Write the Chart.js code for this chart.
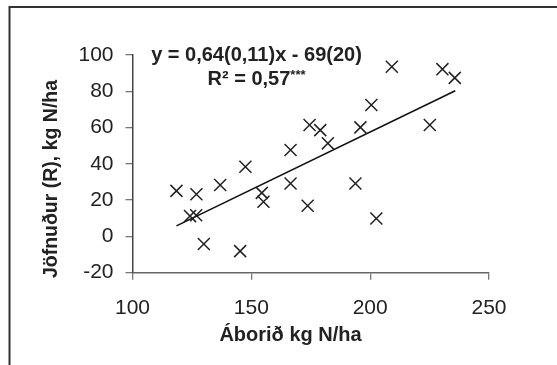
<!DOCTYPE html>
<html>
<head>
<meta charset="utf-8">
<script src="https://cdn.jsdelivr.net/npm/chart.js@4/dist/chart.umd.min.js"></script>
<style>
  html, body { margin: 0; padding: 0; background: #fff; }
  #wrap { width: 557px; height: 365px; position: relative; }
</style>
</head>
<body>
<div id="wrap"><canvas id="c" width="557" height="365"></canvas></div>
<script>
// Nitrogen applied (x) vs. nitrogen balance (y), one point per field
const applied = [118.5, 126.9, 136.9, 147.5, 166.5, 166.5, 154.4, 155.1, 124.2, 126.8, 130.0, 145.3,
                 209.1, 230.4, 235.6, 200.5, 174.5, 179.0, 182.2, 195.9, 225.1, 193.8, 173.7, 202.6];
const balance = [25.1, 23.2, 28.3, 38.4, 47.6, 29.2, 24.0, 19.1, 11.2, 11.7, -4.2, -8.1,
                 93.5, 92.2, 87.4, 72.4, 61.4, 58.6, 51.3, 60.1, 61.4, 29.2, 16.9, 9.9];
// Regression line end points
const fitX = [118.5, 235.8];
const fitY = [5.8, 80.3];
const xTicks = [100, 150, 200, 250];
const yTicks = [-20, 0, 20, 40, 60, 80, 100];

const xTitle = 'Áborið kg N/ha';
const yTitle = 'Jöfnuður (R), kg N/ha';
const eqLine = 'y = 0,64(0,11)x - 69(20)';
const r2Main = 'R² = 0,57';
const r2Stars = '***';

const FONT = '"Liberation Sans", Arial, sans-serif';

const points = applied.map((x, i) => ({ x: x, y: balance[i] }));
const fit = fitX.map((x, i) => ({ x: x, y: fitY[i] }));

const annotations = {
  id: 'annotations',
  afterDraw(chart) {
    const ctx = chart.ctx;
    ctx.save();
    // frame (left and top edges)
    ctx.strokeStyle = '#333';
    ctx.lineWidth = 2;
    ctx.beginPath();
    ctx.moveTo(9.5, 365);
    ctx.lineTo(9.5, 7);
    ctx.lineTo(557, 7);
    ctx.stroke();

    ctx.fillStyle = '#222';
    ctx.textAlign = 'center';
    ctx.textBaseline = 'middle';
    // axis titles
    ctx.font = 'bold 20px ' + FONT;
    ctx.fillText(xTitle, 290.5, 335);
    ctx.save();
    ctx.translate(52, 179);
    ctx.rotate(-Math.PI / 2);
    ctx.font = 'bold 19.5px ' + FONT;
    ctx.fillText(yTitle, 0, 0);
    ctx.restore();

    // regression equation
    ctx.font = 'bold 20px ' + FONT;
    ctx.fillText(eqLine, 256.5, 55);
    const wMain = ctx.measureText(r2Main).width;
    ctx.font = 'bold 13px ' + FONT;
    const wStars = ctx.measureText(r2Stars).width;
    const startX = 256.5 - (wMain + wStars) / 2;
    ctx.textAlign = 'left';
    ctx.font = 'bold 20px ' + FONT;
    ctx.fillText(r2Main, startX, 79);
    ctx.font = 'bold 13px ' + FONT;
    ctx.fillText(r2Stars, startX + wMain, 75);
    ctx.restore();
  }
};

new Chart(document.getElementById('c'), {
  type: 'scatter',
  data: {
    datasets: [
      {
        data: points,
        pointStyle: 'crossRot',
        pointRadius: 8.5,
        pointHoverRadius: 8.5,
        borderColor: '#222',
        backgroundColor: '#222',
        pointBorderWidth: 1.5,
        borderWidth: 1.5
      },
      {
        type: 'line',
        data: fit,
        borderColor: '#111',
        borderWidth: 1.6,
        pointRadius: 0,
        fill: false
      }
    ]
  },
  plugins: [annotations],
  options: {
    responsive: false,
    animation: false,
    events: [],
    layout: { padding: { left: 0, top: 55, right: 68, bottom: 0 } },
    plugins: { legend: { display: false }, tooltip: { enabled: false } },
    scales: {
      x: {
        type: 'linear',
        min: 100, max: 250,
        afterBuildTicks(scale) { scale.ticks = xTicks.map(v => ({ value: v })); },
        afterFit(scale) { scale.height = 92.3; },
        grid: { display: true, drawOnChartArea: false, drawTicks: true, tickLength: 7, color: '#777', lineWidth: 1.3 },
        border: { display: true, color: '#666', width: 1.5 },
        ticks: { color: '#222', font: { family: FONT, size: 21 }, padding: 16, maxRotation: 0 }
      },
      y: {
        type: 'linear',
        min: -20, max: 100,
        afterBuildTicks(scale) { scale.ticks = yTicks.map(v => ({ value: v })); },
        afterFit(scale) { scale.width = 132.5; },
        grid: { display: true, drawOnChartArea: false, drawTicks: true, tickLength: 7, color: '#777', lineWidth: 1.3 },
        border: { display: true, color: '#444', width: 1.5 },
        ticks: { color: '#222', font: { family: FONT, size: 21 }, padding: 12 }
      }
    }
  }
});
</script>
</body>
</html>
